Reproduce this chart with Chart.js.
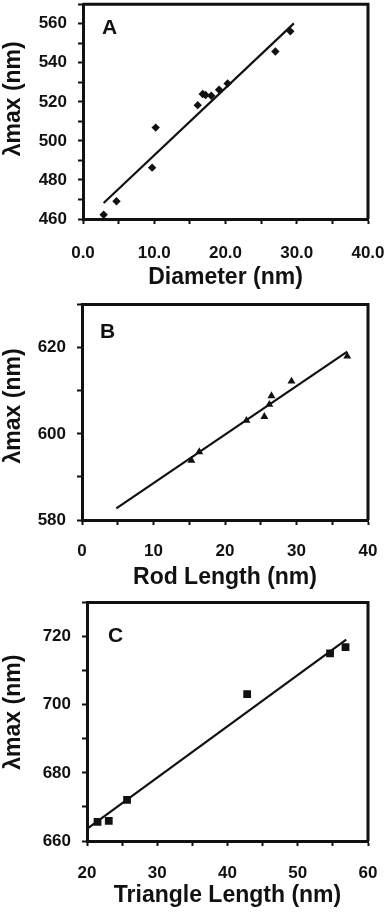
<!DOCTYPE html>
<html>
<head>
<meta charset="utf-8">
<script src="https://cdn.jsdelivr.net/npm/chart.js@4/dist/chart.umd.min.js"></script>
<style>
  body { margin: 0; background: #fff; width: 386px; height: 916px; overflow: hidden; }
  .panel { position: absolute; left: 0; }
</style>
</head>
<body>
<div class="panel" style="top:0"><canvas id="chartA" width="386" height="300"></canvas></div>
<div class="panel" style="top:300px"><canvas id="chartB" width="386" height="300"></canvas></div>
<div class="panel" style="top:597px"><canvas id="chartC" width="386" height="319"></canvas></div>
<script>
// Panel A - spheres
var diameter = [2.9, 4.7, 9.7, 10.2, 16.1, 16.8, 17.2, 18.0, 19.1, 20.3, 27.0, 29.1];
var lambdaA  = [462.2, 469.1, 486.3, 506.8, 518.3, 524.0, 523.5, 523.1, 526.2, 529.4, 545.8, 556.1];
var fitAx = [2.9, 29.6];
var fitAy = [468.2, 560.2];

// Panel B - rods
var rodLength = [15.3, 16.4, 23.0, 25.5, 26.2, 26.5, 29.3, 37.1];
var lambdaB   = [593.8, 595.8, 603.1, 604.0, 606.8, 608.8, 612.2, 618.0];
var fitBx = [4.8, 37.1];
var fitBy = [582.7, 619.1];

// Panel C - triangles
var triLength = [21.5, 23.1, 25.7, 42.8, 54.6, 56.8];
var lambdaC   = [665.6, 665.9, 672.1, 703.1, 715.1, 716.9];
var fitCx = [20.1, 56.9];
var fitCy = [663.7, 719.1];

var FONT = "'Liberation Sans', Arial, sans-serif";
var INK = '#111';

var framePlugin = {
  id: 'frame',
  afterDraw(chart, args, opts) {
    var a = chart.chartArea, ctx = chart.ctx;
    ctx.save();
    ctx.strokeStyle = INK;
    ctx.lineWidth = 3;
    ctx.beginPath();
    ctx.moveTo(a.left, a.top);
    ctx.lineTo(a.right, a.top);
    ctx.lineTo(a.right, a.bottom);
    ctx.stroke();
    ctx.fillStyle = INK;
    ctx.font = 'bold 21px ' + FONT;
    ctx.textBaseline = 'alphabetic';
    ctx.fillText(opts.letter, a.left + opts.dx, a.top + opts.dy);
    ctx.restore();
  }
};

function xy(xs, ys) {
  return xs.map((x, i) => ({x: x, y: ys[i]}));
}

function noPad(s) {
  s.paddingLeft = 0; s.paddingRight = 0; s.paddingTop = 0; s.paddingBottom = 0;
}

function makePanel(id, cfg) {
  new Chart(document.getElementById(id), {
    type: 'scatter',
    plugins: [framePlugin],
    data: {
      datasets: [
        {
          data: xy(cfg.xs, cfg.ys),
          pointStyle: cfg.marker,
          pointRadius: cfg.radius,
          backgroundColor: INK,
          borderColor: INK,
          borderWidth: 0
        },
        {
          type: 'line',
          data: xy(cfg.fitX, cfg.fitY),
          borderColor: INK,
          borderWidth: 2.2,
          pointRadius: 0,
          fill: false
        }
      ]
    },
    options: {
      responsive: false,
      animation: false,
      events: [],
      layout: { padding: { top: 3, right: 18, left: 0, bottom: 0 } },
      plugins: {
        legend: { display: false },
        tooltip: { enabled: false },
        frame: { letter: cfg.letter, dx: cfg.ldx, dy: cfg.ldy }
      },
      scales: {
        x: {
          type: 'linear',
          min: cfg.xMin, max: cfg.xMax,
          afterFit: s => { s.height = cfg.xH; noPad(s); },
          border: { display: true, width: 3, color: INK },
          grid: { drawOnChartArea: false, drawTicks: true, tickLength: 5, tickWidth: 2, tickColor: INK },
          ticks: {
            stepSize: 5, autoSkip: false, maxRotation: 0, padding: cfg.xTickPad,
            color: INK, font: { family: FONT, size: 17, weight: 'bold' },
            callback: v => (v % 10 === 0 ? (cfg.xFixed ? v.toFixed(1) : String(v)) : '')
          },
          title: {
            display: true, text: cfg.xTitle, color: INK,
            font: { family: FONT, size: 23, weight: 'bold' },
            padding: { top: 0, bottom: cfg.xTitlePad }
          }
        },
        y: {
          type: 'linear',
          min: cfg.yMin, max: cfg.yMax,
          afterFit: s => { s.width = cfg.yW; noPad(s); },
          border: { display: true, width: 3, color: INK },
          grid: { drawOnChartArea: false, drawTicks: true, tickLength: 5, tickWidth: 2, tickColor: INK },
          ticks: {
            stepSize: 10, autoSkip: false, padding: 11,
            color: INK, font: { family: FONT, size: 17, weight: 'bold' },
            callback: v => ((v - cfg.yMin) % 20 === 0 ? String(v) : '')
          },
          title: {
            display: true, text: cfg.yTitle, color: INK,
            font: { family: FONT, size: 23, weight: 'bold' },
            padding: 0
          }
        }
      }
    }
  });
}

makePanel('chartA', {
  xs: diameter, ys: lambdaA, fitX: fitAx, fitY: fitAy,
  marker: 'rectRot', radius: 4.2, letter: 'A', ldx: 19, ldy: 30,
  xMin: 0, xMax: 40, yMin: 460, yMax: 570, xFixed: true,
  xTitle: 'Diameter (nm)', yTitle: '    λmax (nm)', xH: 81, yW: 83, xTitlePad: 9, xTickPad: 19
});

makePanel('chartB', {
  xs: rodLength, ys: lambdaB, fitX: fitBx, fitY: fitBy,
  marker: 'triangle', radius: 4.6, letter: 'B', ldx: 18, ldy: 33,
  xMin: 0, xMax: 40, yMin: 580, yMax: 630, xFixed: false,
  xTitle: 'Rod Length (nm)', yTitle: '  λmax (nm)', xH: 80, yW: 82, xTitlePad: 9, xTickPad: 16
});

makePanel('chartC', {
  xs: triLength, ys: lambdaC, fitX: fitCx, fitY: fitCy,
  marker: 'rect', radius: 5.5, letter: 'C', ldx: 21, ldy: 39,
  xMin: 20, xMax: 60, yMin: 660, yMax: 730, xFixed: false,
  xTitle: 'Triangle Length (nm)', yTitle: '   λmax (nm)', xH: 75, yW: 87, xTitlePad: 7, xTickPad: 17
});
</script>
</body>
</html>
